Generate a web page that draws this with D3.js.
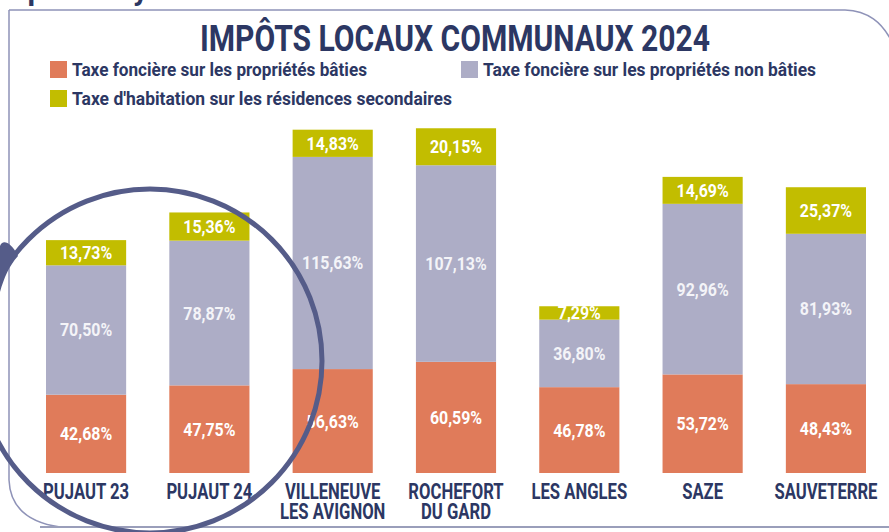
<!DOCTYPE html>
<html>
<head>
<meta charset="utf-8">
<script src="https://cdn.jsdelivr.net/npm/d3@7"></script>
<style>
  body { margin: 0; background: #fff; }
  svg { display: block; font-family: Roboto, "Open Sans", sans-serif; }
</style>
</head>
<body>
<script>
// communes (une ligne par élément de tableau)
const communes = [["PUJAUT 23"], ["PUJAUT 24"], ["VILLENEUVE", "LES AVIGNON"], ["ROCHEFORT", "DU GARD"], ["LES ANGLES"], ["SAZE"], ["SAUVETERRE"]]
const series = ["Taxe foncière sur les propriétés bâties", "Taxe foncière sur les propriétés non bâties", "Taxe d'habitation sur les résidences secondaires"]
const tfpb = [42.68, 47.75, 56.63, 60.59, 46.78, 53.72, 48.43]
const tfpnb = [70.50, 78.87, 115.63, 107.13, 36.80, 92.96, 81.93]
const thrs = [13.73, 15.36, 14.83, 20.15, 7.29, 14.69, 25.37]

const w = 889, h = 532
const navy = "#2c3763"
const colors = ["#e07b5a", "#adadc6", "#c2bd00"]

const rows = communes.map((c, i) => ({ name: c.join(" "), lines: c, s0: tfpb[i], s1: tfpnb[i], s2: thrs[i] }))
const stack = d3.stack().keys(["s0", "s1", "s2"])(rows)

const svg = d3.select("body").append("svg").attr("width", w).attr("height", h)

// resserre le texte pour imiter une police condensée
function squeeze(sel, k) {
    sel.each(function () {
        let l = this.getComputedTextLength()
        d3.select(this).attr("textLength", l * k).attr("lengthAdjust", "spacingAndGlyphs")
    })
}
function fit(sel, width) {
    sel.attr("textLength", width).attr("lengthAdjust", "spacingAndGlyphs")
}

// bout de texte coupé en haut
svg.append("text").attr("x", 20).attr("y", 0).attr("font-size", 30).attr("font-weight", 700)
    .attr("fill", navy).text("Comp").attr("textLength", 24)
svg.append("text").attr("x", 124).attr("y", 0).attr("font-size", 30).attr("font-weight", 700)
    .attr("fill", navy).text("ay").attr("textLength", 24)

// cadre
svg.append("path")
    .attr("d", "M 9 10 H 845 C 868 11, 882 22, 892 42 M 9 10 V 480 C 10 505, 25 522, 60 527")
    .attr("fill", "none").attr("stroke", "#8f93b8").attr("stroke-width", 1.5)
svg.append("line").attr("x1", 40).attr("x2", w).attr("y1", 527).attr("y2", 527)
    .attr("stroke", "#9a9eba").attr("stroke-width", 2)

// titre
svg.append("text").attr("x", 455).attr("y", 51).attr("text-anchor", "middle")
    .attr("font-size", 36).attr("font-weight", 700).attr("fill", navy)
    .text("IMPÔTS LOCAUX COMMUNAUX 2024").call(fit, 510)

// légende
const legend = [
    { x: 50, y: 61, tw: 295 },
    { x: 461, y: 61, tw: 333 },
    { x: 50, y: 90, tw: 380 }
]
legend.forEach((l, i) => {
    svg.append("rect").attr("x", l.x).attr("y", l.y).attr("width", 17).attr("height", 17).attr("fill", colors[i])
    svg.append("text").attr("x", l.x + 22).attr("y", l.y + 15)
        .attr("font-size", 17.5).attr("font-weight", 700).attr("fill", navy)
        .text(series[i]).call(fit, l.tw)
})

const x = d3.scaleBand().domain(rows.map(d => d.name)).range([46, 866]).paddingInner(0.35).paddingOuter(0)
const y = d3.scaleLinear().domain([0, 190]).range([473, 473 - 190 * 1.835])

const fmt = v => d3.format(".2f")(v).replace(".", ",") + "%"

const layers = svg.append("g").selectAll("g")
    .data(stack)
    .enter().append("g")
    .attr("fill", (d, i) => colors[i])

layers.selectAll("rect")
    .data(d => d)
    .enter().append("rect")
    .attr("x", d => x(d.data.name))
    .attr("width", x.bandwidth())
    .attr("y", d => y(d[1]))
    .attr("height", d => y(d[0]) - y(d[1]))

layers.selectAll("text")
    .data(d => d)
    .enter().append("text")
    .attr("x", d => x(d.data.name) + x.bandwidth() / 2)
    .attr("y", d => (y(d[0]) + y(d[1])) / 2 + 6.5)
    .attr("text-anchor", "middle")
    .attr("font-size", 18.5).attr("font-weight", 700)
    .attr("fill", (d, i, n) => n[i].parentNode.__data__.index === 1 ? "#f4f4f8" : "#fff")
    .text(d => fmt(d[1] - d[0]))
    .call(squeeze, 0.86)

// noms des communes
const cats = svg.append("g").selectAll("g")
    .data(rows)
    .enter().append("g")
cats.selectAll("text")
    .data(d => d.lines.map((t, j) => ({ t: t, j: j, name: d.name })))
    .enter().append("text")
    .attr("x", d => x(d.name) + x.bandwidth() / 2)
    .attr("y", d => 499 + d.j * 20)
    .attr("text-anchor", "middle")
    .attr("font-size", 22.5).attr("font-weight", 700).attr("fill", navy)
    .text(d => d.t)
    .call(squeeze, 0.74)

// cercle autour de Pujaut
svg.append("circle").attr("cx", 150).attr("cy", 361).attr("r", 172)
    .attr("fill", "none").attr("stroke", "#555c89").attr("stroke-width", 5)
svg.append("path")
    .attr("d", "M 18 256 C 10 240, 2 240, 0 246 L 0 292 C 4 278, 9 266, 18 256 Z")
    .attr("fill", "#555c89")
</script>
</body>
</html>
